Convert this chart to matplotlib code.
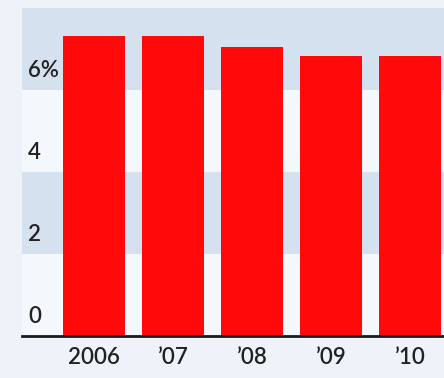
import matplotlib.pyplot as plt
from matplotlib.transforms import blended_transform_factory

# data
years = ["2006", "\u201907", "\u201908", "\u201909", "\u201910"]
values = [7.32, 7.32, 7.05, 6.83, 6.83]
y_ticks = [0, 2, 4, 6]
y_labels = ["0", "2", "4", "6%"]

plt.rcParams['font.family'] = ['Lato', 'DejaVu Sans']

fig = plt.figure(figsize=(4.44, 3.78), dpi=100)
fig.patch.set_facecolor('#eef3f9')
ax = fig.add_axes([22 / 444, 42 / 378, 422 / 444, 328 / 378])
ax.set_facecolor('#f4f7fb')

# alternating bands
for lo in (2, 6):
    ax.axhspan(lo, lo + 2, color='#d5e1ee', zorder=0, lw=0)

x = range(len(years))
ax.bar(x, values, width=0.79, color='#fe0a0a', zorder=2)

ax.set_xlim(-0.91, 4.43)
ax.set_ylim(0, 8)

for s in ax.spines.values():
    s.set_visible(False)
ax.axhline(0, color='#1a1a1a', lw=2, zorder=3, clip_on=False)

ax.set_yticks([])
ax.set_xticks(list(x))
ax.set_xticklabels(years, fontsize=16, color='#222222', fontweight='semibold')
ax.tick_params(axis='x', length=0, pad=8)

tr = blended_transform_factory(ax.transAxes, ax.transData)
for v, lab in zip(y_ticks, y_labels):
    ax.text(0.015, v + 0.22, lab, transform=tr, fontsize=16, color='#222222',
            fontweight='semibold', ha='left', va='bottom', zorder=4)

fig.savefig('out.png', dpi=100, facecolor=fig.get_facecolor())
